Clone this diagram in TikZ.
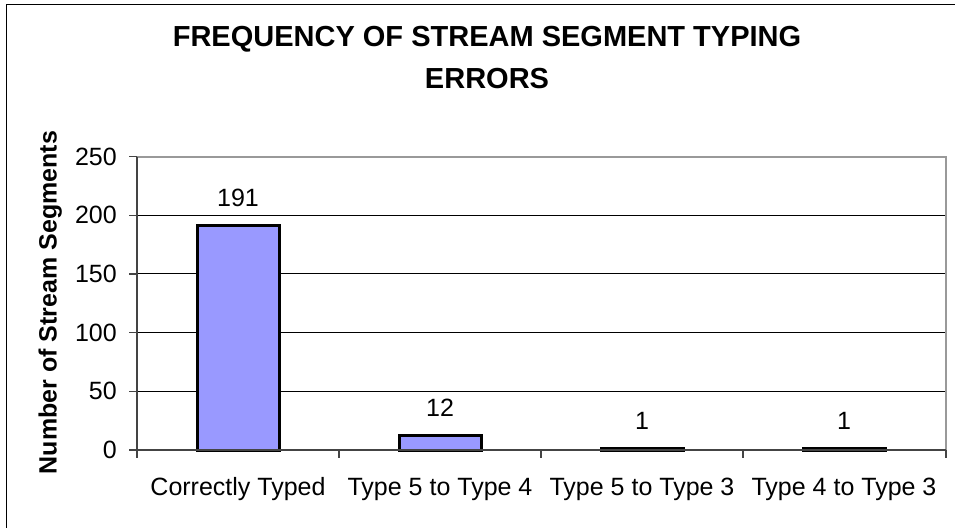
\documentclass[tikz,border=0pt]{standalone}
\usepackage{fontspec}
\setmainfont{Liberation Sans}
\usetikzlibrary{positioning}
\definecolor{barblue}{HTML}{9999FF}
\definecolor{framegray}{HTML}{999999}
\definecolor{axisgray}{HTML}{444444}

\begin{document}
\begin{tikzpicture}[x=1pt, y=-1pt,
    ticklabel/.style={font=\fontsize{25}{30}\selectfont, inner sep=0pt},
    titletext/.style={font=\bfseries\fontsize{29}{35}\selectfont, inner sep=0pt, anchor=base},
    barbox/.style={draw=black, fill=barblue, line width=3pt},
    gridline/.style={line width=1pt}]
  \useasboundingbox (0,0) rectangle (955,527);
  \draw[line width=1pt] (6,5) rectangle (970,545);
  \node[titletext] (title1) at (487,46.7) {FREQUENCY OF STREAM SEGMENT TYPING};
  \node[titletext] (title2) at (487,88.3) {ERRORS};
  \node[font=\bfseries\fontsize{25}{30}\selectfont, inner sep=0pt, rotate=90, anchor=base] (ylabel) at (56.7,302.5) {Number of Stream Segments};
  \foreach \v in {50,100,...,200}
    \draw[gridline] (137,{450-1.174*\v}) -- (946,{450-1.174*\v});
  \draw[framegray, line width=2pt] (137,156.5) -- (946,156.5) -- (946,450);
  \foreach \v in {0,50,...,250} {
    \node[ticklabel, anchor=east] (tick\v) at (117,{450-1.174*\v}) {\v};
    \draw[axisgray, line width=1.2pt] (129,{450-1.174*\v}) -- (137,{450-1.174*\v});
  }
  \foreach \x in {137,339,541,743,946}
    \draw[axisgray, line width=1.2pt] (\x,450) -- (\x,458);
  \foreach \cx/\n/\lbl [count=\i] in {238/191/Correctly Typed, 440/12/Type 5 to Type 4, 642/1/Type 5 to Type 3, 844/1/Type 4 to Type 3} {
    \draw[barbox] (\cx-41,450) rectangle (\cx+41,{450-1.174*\n});
    \node[ticklabel, anchor=base] (value\i) at (\cx,{450-1.174*\n-19}) {\n};
    \node[ticklabel, anchor=base] (cat\i) at (\cx,495) {\lbl};
  }
  \draw[axisgray, line width=1.5pt] (137,156.5) -- (137,450) -- (946,450);
\end{tikzpicture}
\end{document}
